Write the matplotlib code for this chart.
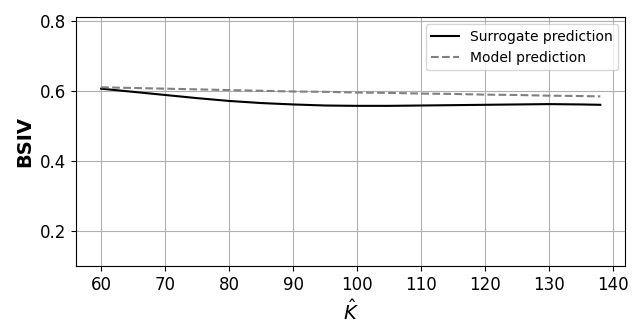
import numpy as np
from matplotlib import pyplot as plt

k_hat = [60, 65, 70, 75, 80, 85, 90, 95, 100, 105, 110, 115, 120, 125, 130, 135, 138]
surrogate = [0.606, 0.597, 0.588, 0.579, 0.571, 0.565, 0.561, 0.558, 0.557, 0.557, 0.558, 0.559, 0.560, 0.561, 0.562, 0.561, 0.560]
model = [0.610, 0.608, 0.606, 0.604, 0.602, 0.600, 0.598, 0.597, 0.595, 0.594, 0.592, 0.591, 0.589, 0.588, 0.586, 0.585, 0.584]

plt.figure(figsize=(6.4, 3.36))
plt.subplots_adjust(left=0.119, right=0.977, top=0.949, bottom=0.208)
plt.plot(k_hat, surrogate, color="black", label="Surrogate prediction")
plt.plot(k_hat, model, color="gray", linestyle="--", label="Model prediction")
plt.ylim(0.1, 0.81)
plt.xticks(np.arange(60, 141, 10), fontsize=12)
plt.yticks([0.2, 0.4, 0.6, 0.8], fontsize=12)
plt.xlabel(r"$\hat{K}$", fontsize=14)
plt.ylabel("BSIV", fontsize=14, fontweight="bold")
plt.grid(True)
plt.legend(loc="upper right")
plt.savefig("out.png", dpi=100)
